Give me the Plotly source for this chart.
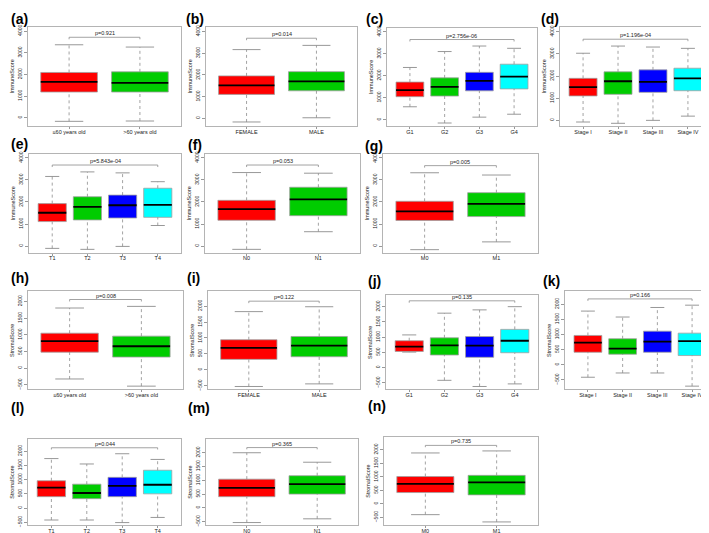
import plotly.graph_objects as go

W, H = 709, 533

# ---------------- data ----------------
# each stats list: [lower whisker, Q1, median, Q3, upper whisker] per category
a_labels = ["≤60 years old", ">60 years old"]
a_stats = [[-165, 1188, 1654, 2090, 3368], [-150, 1188, 1609, 2120, 3263]]
a_p = "p=0.921"

b_labels = ["FEMALE", "MALE"]
b_stats = [[-164, 1104, 1522, 1955, 3164], [30, 1269, 1701, 2149, 3358]]
b_p = "p=0.014"

c_labels = ["G1", "G2", "G3", "G4"]
c_stats = [[590, 1048, 1343, 1712, 2376], [-148, 1077, 1491, 1904, 3100],
           [118, 1314, 1771, 2155, 3351], [251, 1402, 1963, 2524, 3247]]
c_p = "p=2.756e-06"

d_labels = ["Stage I", "Stage II", "Stage III", "Stage IV"]
d_stats = [[-74, 1103, 1500, 1897, 3029], [-132, 1176, 1765, 2191, 3353],
           [0, 1265, 1735, 2279, 3309], [191, 1338, 1897, 2353, 3250]]
d_p = "p=1.196e-04"

e_labels = ["T1", "T2", "T3", "T4"]
e_stats = [[-104, 1111, 1511, 1926, 3156], [-148, 1185, 1778, 2237, 3363],
           [-15, 1274, 1852, 2311, 3319], [933, 1304, 1867, 2622, 2919]]
e_p = "p=5.843e-04"

f_labels = ["N0", "N1"]
f_stats = [[-148, 1170, 1674, 2074, 3333], [652, 1378, 2118, 2667, 3304]]
f_p = "p=0.053"

g_labels = ["M0", "M1"]
g_stats = [[-162, 1162, 1574, 2030, 3324], [191, 1338, 1912, 2421, 3221]]
g_p = "p=0.005"

h_labels = ["≤60 years old", ">60 years old"]
h_stats = [[-324, 480, 814, 1049, 1804], [-539, 333, 657, 961, 1853]]
h_p = "p=0.008"

i_labels = ["FEMALE", "MALE"]
i_stats = [[-523, 328, 687, 944, 1826], [-441, 410, 759, 1046, 1979]]
i_p = "p=0.122"

j_labels = ["G1", "G2", "G3", "G4"]
j_stats = [[510, 532, 691, 883, 1074], [-415, 415, 734, 979, 1787],
           [-617, 340, 723, 1021, 1894], [-532, 489, 883, 1255, 2000]]
j_p = "p=0.135"

k_labels = ["Stage I", "Stage II", "Stage III", "Stage IV"]
k_stats = [[-413, 413, 728, 967, 1772], [-272, 348, 533, 859, 1576],
           [-272, 413, 761, 1109, 1891], [-707, 304, 783, 1043, 1967]]
k_p = "p=0.166"

l_labels = ["T1", "T2", "T3", "T4"]
l_stats = [[-420, 400, 720, 960, 1740], [-420, 330, 530, 840, 1550],
           [-510, 400, 780, 1080, 1910], [-330, 500, 820, 1330, 1710]]
l_p = "p=0.044"

m_labels = ["N0", "N1"]
m_stats = [[-531, 406, 729, 1042, 2000], [-396, 500, 865, 1167, 1656]]
m_p = "p=0.365"

n_labels = ["M0", "M1"]
n_stats = [[-398, 419, 742, 1011, 1882], [-667, 333, 796, 1054, 1957]]
n_p = "p=0.735"

# p-value bracket heights (data units)
bracket_y = {"a": 3714, "b": 3687, "c": 3646, "d": 3662, "e": 3674, "f": 3674,
             "g": 3647, "h": 2059, "i": 2154, "j": 2191, "k": 2174, "l": 2120,
             "m": 2187, "n": 2161}

immune_ticks = [0, 1000, 2000, 3000, 4000]
stromal_ticks = [-500, 0, 500, 1000, 1500, 2000]

COLORS = ["#FF0000", "#00CC00", "#0000FF", "#00FFFF"]
GREY = "#8c8c8c"
FONT = "Liberation Sans, Arial, sans-serif"

# ---------------- layout geometry (pixels) ----------------
panels = [
    # key, labels, stats, p, score, yrange, frame(x0,x1,y0,y1), label pos(x,y)
    ("a", a_labels, a_stats, a_p, "ImmuneScore", [-376, 4195], (20, 173, 16, 116), (1, 8)),
    ("b", b_labels, b_stats, b_p, "ImmuneScore", [-345, 4210], (198, 349, 16, 116), (176, 8)),
    ("c", c_labels, c_stats, c_p, "ImmuneScore", [-280, 4177], (379, 529, 17, 116), (356, 8)),
    ("d", d_labels, d_stats, d_p, "ImmuneScore", [-250, 4220], (552, 703, 16, 116), (531, 8)),
    ("e", e_labels, e_stats, e_p, "ImmuneScore", [-300, 4190], (21, 173, 144, 244), (1, 134)),
    ("f", f_labels, f_stats, f_p, "ImmuneScore", [-300, 4190], (197, 352, 144, 244), (178, 135)),
    ("g", g_labels, g_stats, g_p, "ImmuneScore", [-300, 4190], (375, 530, 144, 244), (355, 136)),
    ("h", h_labels, h_stats, h_p, "StromalScore", [-637, 2304], (20, 175, 283, 382), (1, 270)),
    ("i", i_labels, i_stats, i_p, "StromalScore", [-615, 2462], (200, 352, 283, 382), (177, 270)),
    ("j", j_labels, j_stats, j_p, "StromalScore", [-713, 2372], (378, 530, 287, 382), (358, 273)),
    ("k", k_labels, k_stats, k_p, "StromalScore", [-815, 2424], (557, 707, 283, 382), (533, 273)),
    ("l", l_labels, l_stats, l_p, "StromalScore", [-600, 2430], (20, 173, 432, 519), (1, 401)),
    ("m", m_labels, m_stats, m_p, "StromalScore", [-625, 2500], (198, 350, 432, 519), (178, 401)),
    ("n", n_labels, n_stats, n_p, "StromalScore", [-785, 2473], (376, 530, 430, 519), (358, 399)),
]

fig = go.Figure()
layout = dict(
    width=W, height=H, margin=dict(l=0, r=0, t=0, b=0),
    paper_bgcolor="white", plot_bgcolor="white", showlegend=False,
    font=dict(family=FONT, color="#222"),
)
annotations = []

for idx, (key, labels, stats, ptxt, score, yr, frame, lab) in enumerate(panels, start=1):
    xa = "x" if idx == 1 else f"x{idx}"
    ya = "y" if idx == 1 else f"y{idx}"
    xk = "xaxis" if idx == 1 else f"xaxis{idx}"
    yk = "yaxis" if idx == 1 else f"yaxis{idx}"
    n = len(labels)
    pos = list(range(1, n + 1))
    lo = [s[0] for s in stats]
    q1 = [s[1] for s in stats]
    md = [s[2] for s in stats]
    q3 = [s[3] for s in stats]
    hi = [s[4] for s in stats]

    # whiskers (dotted)
    wx, wy = [], []
    for p_, a_, b_, c_, d_ in zip(pos, lo, q1, q3, hi):
        wx += [p_, p_, None, p_, p_, None]
        wy += [a_, b_, None, c_, d_, None]
    fig.add_trace(go.Scatter(x=wx, y=wy, mode="lines", xaxis=xa, yaxis=ya,
                             line=dict(color=GREY, width=0.8, dash="dot"),
                             hoverinfo="skip"))
    # caps
    cx, cy = [], []
    for p_, a_, d_ in zip(pos, lo, hi):
        cx += [p_ - 0.2, p_ + 0.2, None, p_ - 0.2, p_ + 0.2, None]
        cy += [a_, a_, None, d_, d_, None]
    fig.add_trace(go.Scatter(x=cx, y=cy, mode="lines", xaxis=xa, yaxis=ya,
                             line=dict(color=GREY, width=0.9), hoverinfo="skip"))
    # boxes
    fig.add_trace(go.Bar(x=pos, y=[b - a for a, b in zip(q1, q3)], base=q1, width=0.8,
                         xaxis=xa, yaxis=ya, hoverinfo="skip",
                         marker=dict(color=COLORS[:n], line=dict(color="#a0a0a0", width=0.8))))
    # medians
    mx, my = [], []
    for p_, m_ in zip(pos, md):
        mx += [p_ - 0.4, p_ + 0.4, None]
        my += [m_, m_, None]
    fig.add_trace(go.Scatter(x=mx, y=my, mode="lines", xaxis=xa, yaxis=ya,
                             line=dict(color="black", width=1.8), hoverinfo="skip"))
    # p-value bracket
    by = bracket_y[key]
    dy = (yr[1] - yr[0]) * 0.02
    fig.add_trace(go.Scatter(x=[1, 1, n, n], y=[by - dy, by, by, by - dy], mode="lines",
                             xaxis=xa, yaxis=ya, line=dict(color=GREY, width=0.8),
                             hoverinfo="skip"))
    annotations.append(dict(x=(1 + n) / 2, y=by, xref=xa, yref=ya, text=ptxt,
                            showarrow=False, yanchor="bottom", yshift=-1,
                            font=dict(size=5.5, color="#222", family=FONT)))

    x0, x1, y0, y1 = frame
    xmin, xmax = 0.5 - 0.04 * n, n + 0.5 + 0.04 * n
    layout[xk] = dict(
        domain=[x0 / W, x1 / W], anchor=ya, range=[xmin, xmax],
        tickmode="array", tickvals=pos, ticktext=labels,
        tickfont=dict(size=5.5, family=FONT, color="#222"),
        ticklabelstandoff=-2,
        showline=True, mirror=True, linecolor="#b4b4b4", linewidth=1,
        ticks="outside", ticklen=2, tickcolor="#999", tickwidth=0.8,
        showgrid=False, zeroline=False, fixedrange=True,
    )
    layout[yk] = dict(
        domain=[1 - y1 / H, 1 - y0 / H], anchor=xa, range=yr,
        tickmode="array", tickvals=immune_ticks if score == "ImmuneScore" else stromal_ticks,
        tickangle=-90, tickfont=dict(size=5, family=FONT, color="#222"),
        showline=True, mirror=True, linecolor="#b4b4b4", linewidth=1,
        ticks="outside", ticklen=3, tickcolor="#999", tickwidth=0.8,
        showgrid=False, zeroline=False, fixedrange=True,
        title=dict(text=score, font=dict(size=5.5, family=FONT, color="#222"), standoff=2),
    )
    annotations.append(dict(x=lab[0] / W, y=1 - lab[1] / H, xref="paper", yref="paper",
                            text=f"<b>({key})</b>", showarrow=False, xanchor="left",
                            yanchor="middle", font=dict(size=14, family=FONT, color="black")))

layout["annotations"] = annotations
fig.update_layout(**layout)
fig.write_html("out.html")
